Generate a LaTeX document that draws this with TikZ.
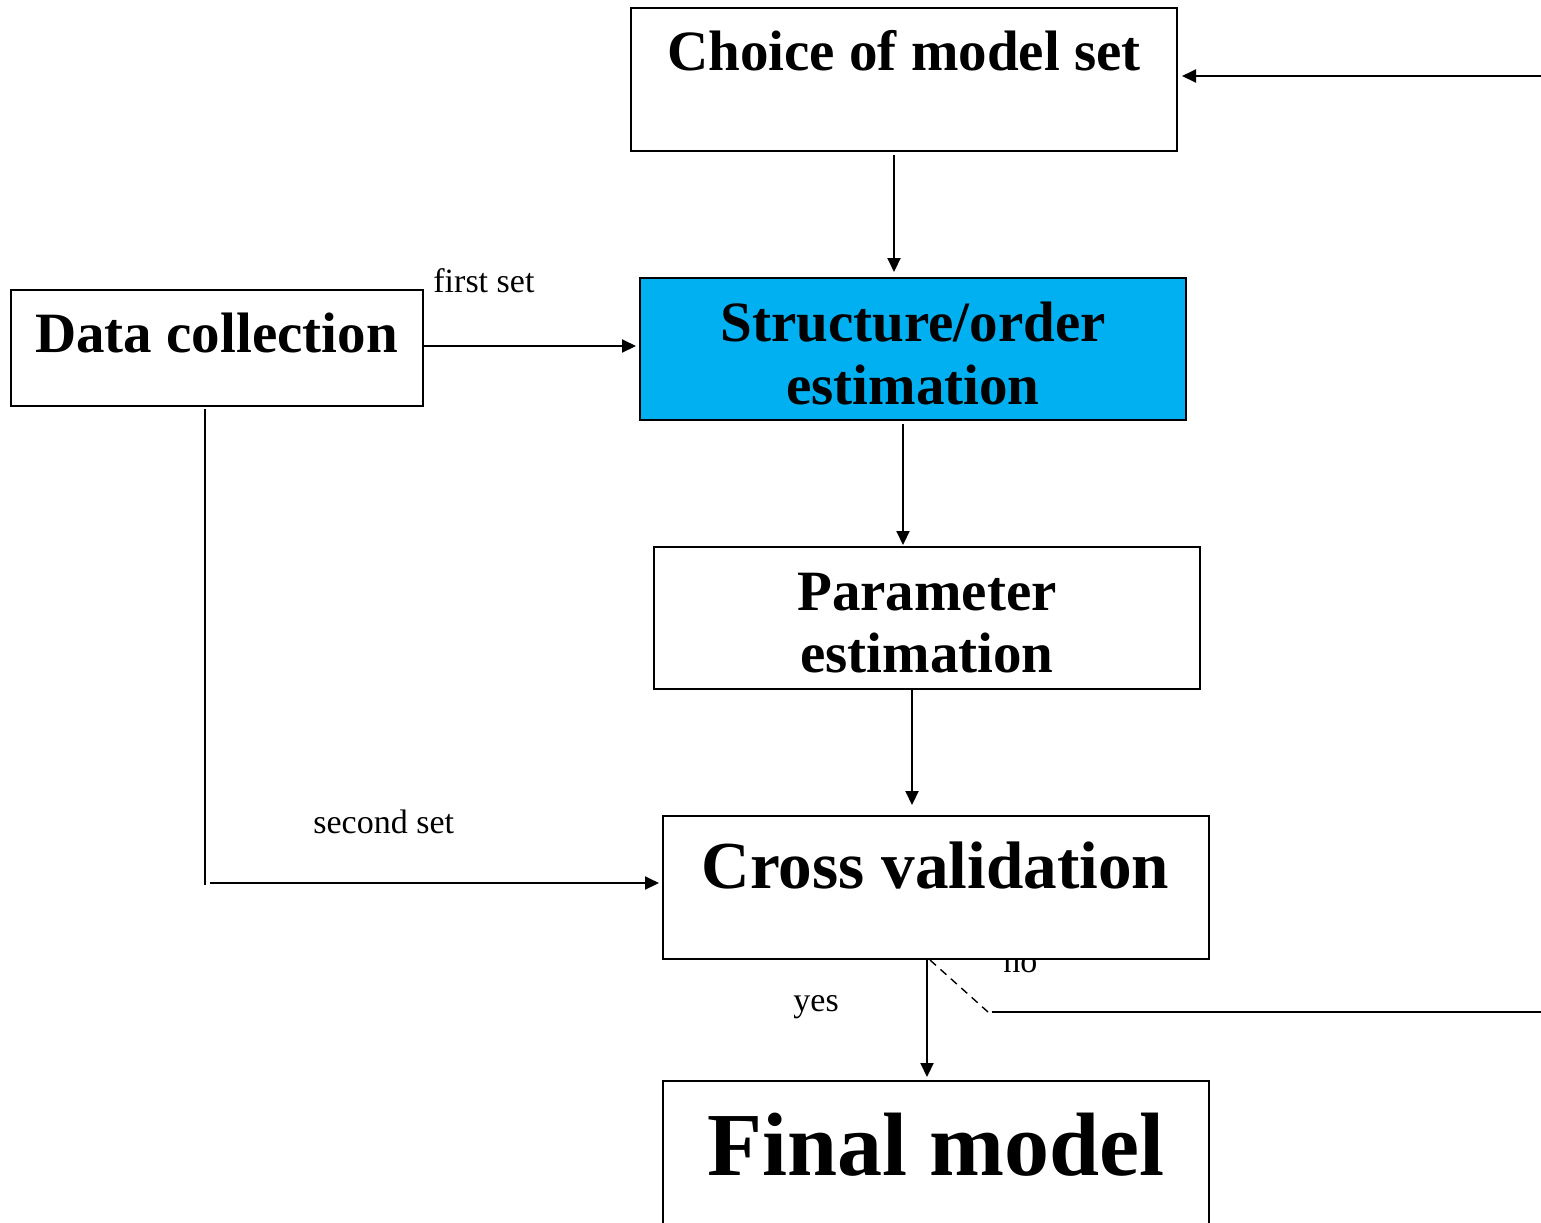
\documentclass[tikz,border=0pt]{standalone}
\usepackage{fontspec}
\setmainfont{Liberation Serif}
\usetikzlibrary{arrows.meta}
\definecolor{boxcyan}{RGB}{0,176,240}
\tikzset{
  box/.style={draw, line width=1pt, fill=white, inner sep=0pt, outer sep=0pt},
  conn/.style={line width=1pt},
  arr/.style={conn, -{Triangle[length=7pt,width=6.5pt]}},
  big/.style={font=\bfseries\fontsize{28.5}{31.5}\selectfont, inner sep=0pt, align=center},
  small/.style={font=\fontsize{17}{20}\selectfont, inner sep=0pt},
}
\begin{document}
\begin{tikzpicture}[x=0.5pt,y=-0.5pt]
\useasboundingbox (0,0) rectangle (1541,1222);
% boxes
\node[box, minimum width=273pt, minimum height=71.5pt] (choice) at (904,79.5) {};
\node[box, fill=boxcyan, minimum width=273pt, minimum height=71pt] (struct) at (913,349) {};
\node[box, minimum width=206pt, minimum height=58pt] (data) at (217,348) {};
\node[box, minimum width=273pt, minimum height=71pt] (param) at (927,618) {};
\node[small, anchor=base west] (nolabel) at (1003,972) {no};
\node[box, minimum width=273pt, minimum height=71.5pt] (cross) at (936,887.5) {};
\node[box, minimum width=273pt, minimum height=72pt] (final) at (936,1153) {};
% box texts
\node[big, anchor=base] (choicetext) at (904,70) {Choice of model set};
\node[big, anchor=base] (datatext) at (216.5,352) {Data collection};
\node[big, anchor=base] (structtext) at (913,341) {Structure/order};
\node[big, anchor=base] (structtext2) at (913,404) {estimation};
\node[big, anchor=base] (paramtext) at (927,610) {Parameter};
\node[big, anchor=base] (paramtext2) at (927,672) {estimation};
\node[big, anchor=base, font=\bfseries\fontsize{33.6}{36}\selectfont] (crosstext) at (935.5,888) {Cross validation};
\node[big, anchor=base, font=\bfseries\fontsize{45}{48}\selectfont] (finaltext) at (936,1175) {Final model};
% labels
\node[small, anchor=base west] (firstset) at (433,292) {first set};
\node[small, anchor=base west] (secondset) at (313,833) {second set};
\node[small, anchor=base west] (yes) at (793,1011) {yes};
% coordinates
\coordinate (rtop) at (1541,76);
\coordinate (c1) at (894,0);
\coordinate (d1) at (0,346);
\coordinate (c2) at (903,0);
\coordinate (c3) at (912,0);
\coordinate (dcorner) at (205,885);
\coordinate (h2) at (210,883);
\coordinate (c4) at (927,0);
\coordinate (dashA) at (930,960);
\coordinate (dashB) at (988,1012);
\coordinate (rbA) at (992,1012);
\coordinate (rbB) at (1541,1012);
% connectors
\draw[arr, shorten >=2.5pt] (rtop) -- (rtop -| choice.east);
\draw[arr, shorten <=2pt, shorten >=3pt] (choice.south -| c1) -- (struct.north -| c1);
\draw[arr, shorten >=2pt] (data.east |- d1) -- (struct.west |- d1);
\draw[arr, shorten <=2pt, shorten >=1pt] (struct.south -| c2) -- (param.north -| c2);
\draw[arr, shorten <=0.5pt, shorten >=5.5pt] (param.south -| c3) -- (cross.north -| c3);
\draw[conn, shorten <=1.5pt] (data.south -| dcorner) -- (dcorner);
\draw[arr, shorten >=2pt] (h2) -- (h2 -| cross.west);
\draw[arr, shorten <=0.5pt, shorten >=2pt] (cross.south -| c4) -- (final.north -| c4);
\draw[conn, line width=0.7pt, dash pattern=on 4pt off 3pt] (dashA) -- (dashB);
\draw[conn] (rbA) -- (rbB);
\end{tikzpicture}
\end{document}
